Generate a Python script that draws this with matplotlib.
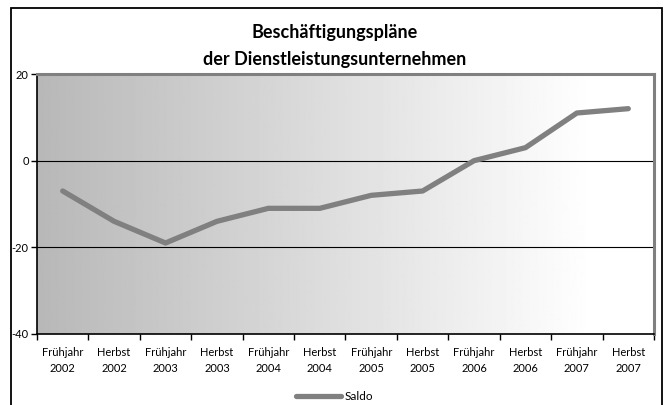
import numpy as np
import matplotlib
matplotlib.use("Agg")
from matplotlib import pyplot as plt
from matplotlib.patches import Rectangle

plt.rcParams["font.family"] = ["Lato", "DejaVu Sans"]

periods = ["Frühjahr\n2002", "Herbst\n2002", "Frühjahr\n2003", "Herbst\n2003",
           "Frühjahr\n2004", "Herbst\n2004", "Frühjahr\n2005", "Herbst\n2005",
           "Frühjahr\n2006", "Herbst\n2006", "Frühjahr\n2007", "Herbst\n2007"]
saldo = [-7, -14, -19, -14, -11, -11, -8, -7, 0, 3, 11, 12]
yticks = [20, 0, -20, -40]

fig = plt.figure(figsize=(6.69, 4.05), dpi=100)
ax = fig.add_axes([37 / 669, 1 - 334 / 405, 617 / 669, 260 / 405])

# gradient background
grad = np.clip(0.72 + 0.28 * np.linspace(0, 1, 600) / 0.9, 0, 1)
ax.imshow(grad[np.newaxis, :], cmap="gray", vmin=0, vmax=1, aspect="auto",
          extent=[0, 1, 0, 1], transform=ax.transAxes, zorder=0)

x = np.arange(len(saldo))
ax.plot(x, saldo, color="#808080", lw=3.8, solid_capstyle="round", label="Saldo", zorder=3)

ax.set_xlim(-0.5, len(saldo) - 0.5)
ax.set_ylim(-40, 20)
ax.set_yticks(yticks)
ax.set_yticklabels([str(v) for v in yticks], fontsize=8)
for v in [0, -20]:
    ax.axhline(v, color="black", lw=0.8, zorder=2)

ax.set_xticks(np.arange(len(saldo) + 1) - 0.5)
ax.set_xticklabels([])
ax.set_xticks(x, minor=True)
ax.set_xticklabels(periods, minor=True, fontsize=8, linespacing=1.65)
ax.tick_params(axis="x", which="minor", length=0, pad=9)
ax.tick_params(axis="x", which="major", length=4, width=1)
ax.tick_params(axis="y", length=4, width=1, pad=2)

for s in ["left", "bottom"]:
    ax.spines[s].set_color("black")
    ax.spines[s].set_linewidth(1.2)
for s in ["top", "right"]:
    ax.spines[s].set_color("#808080")
    ax.spines[s].set_linewidth(2.2)

fig.text(0.5, 1 - 46 / 405, "Beschäftigungspläne\nder Dienstleistungsunternehmen",
         ha="center", va="center", fontsize=13, fontweight="bold", linespacing=1.65)

leg = fig.legend(loc="center", bbox_to_anchor=(0.5, 1 - 397 / 405), frameon=False,
                 fontsize=8.5, handlelength=3.8, handletextpad=0.3)

# chart border
fig.patches.append(Rectangle((11 / 669, -0.05), 651 / 669, 1.05 - 8 / 405,
                             transform=fig.transFigure, fill=False,
                             edgecolor="black", lw=1.3, clip_on=False))

fig.savefig("out.png", dpi=100)
